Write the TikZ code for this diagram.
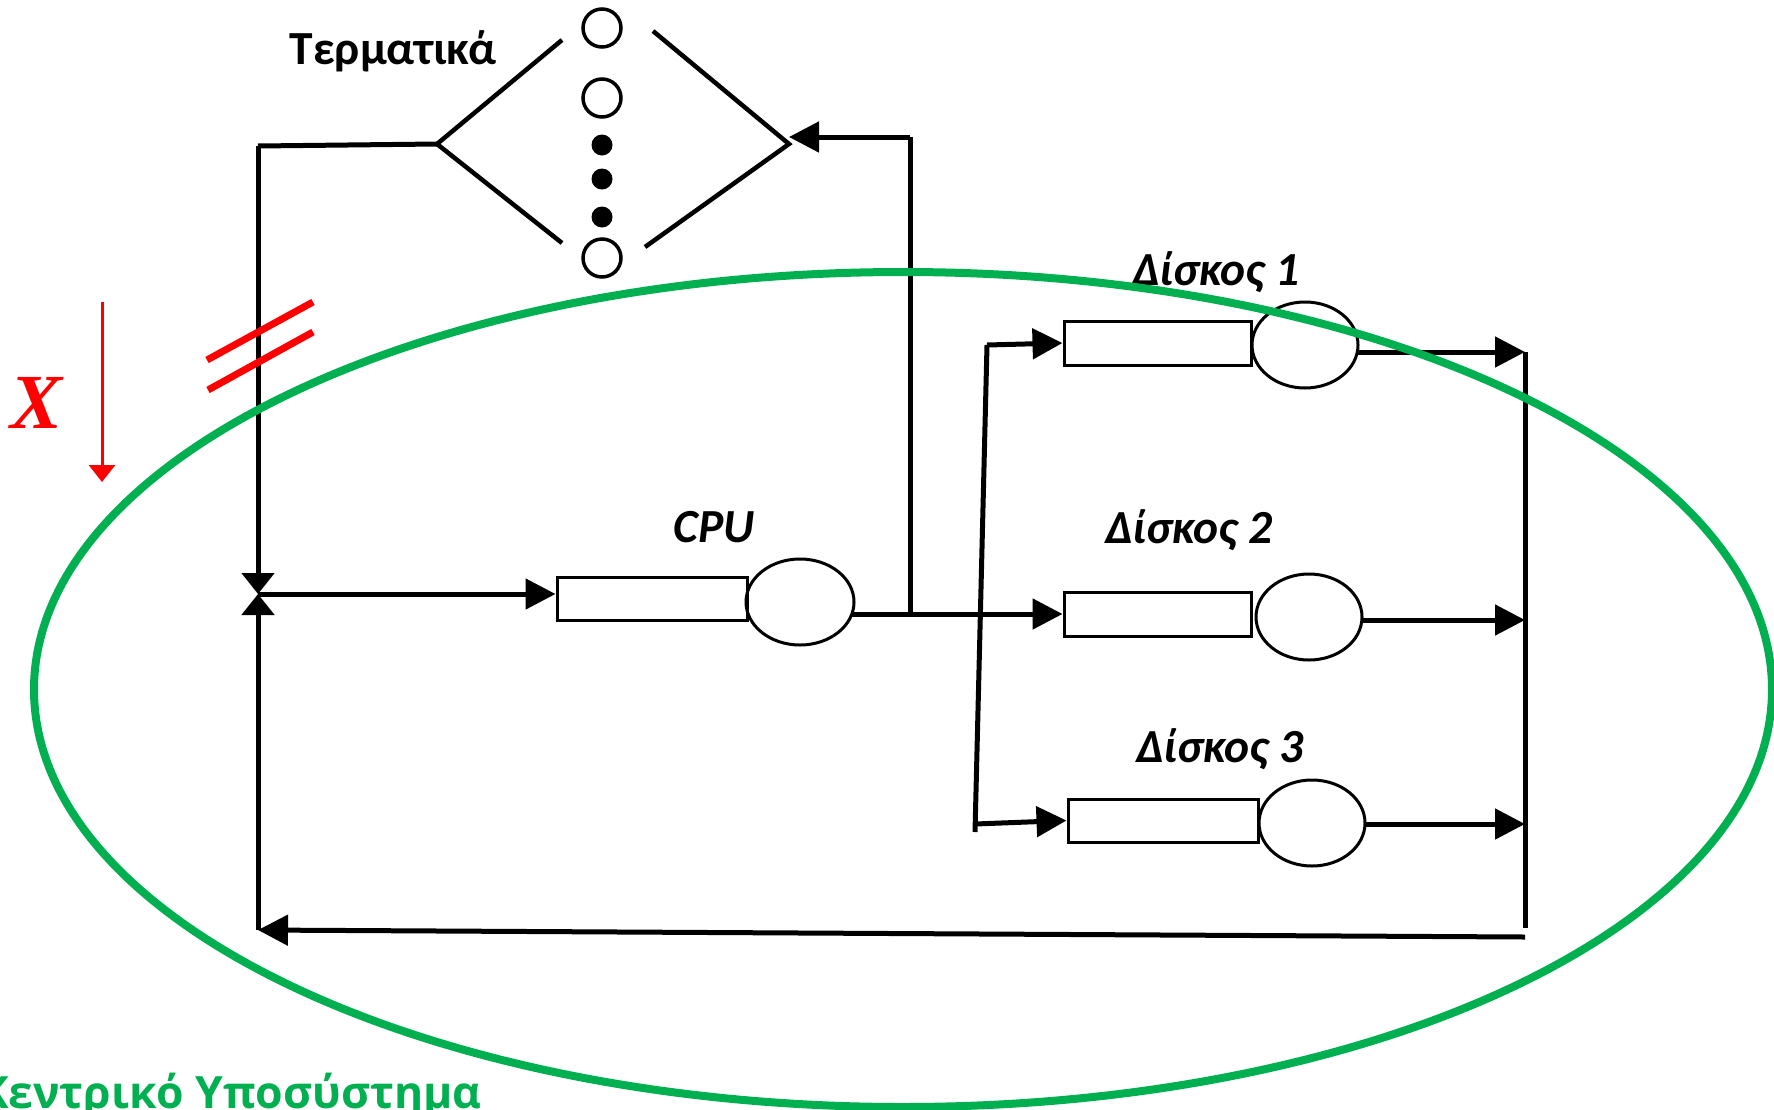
\documentclass[tikz,border=0pt]{standalone}
\usepackage{fontspec}
\setmainfont{Carlito}
\newfontfamily\grnfont{Open Sans}
\newfontfamily\xfont{Liberation Serif}
\usetikzlibrary{arrows.meta,shapes.geometric}
\definecolor{offgreen}{RGB}{0,176,80}
\begin{document}
\begin{tikzpicture}[x=1pt,y=-1pt,
  conn/.style={line width=5pt, -{Triangle[length=30pt,width=30pt]}},
  junc/.style={line width=5pt, -{Triangle[length=21pt,width=32pt]}},
  plain/.style={line width=5pt},
  diam/.style={line width=4.5pt},
  queue/.style={draw, line width=3pt, rectangle, minimum width=187pt, minimum height=44pt, inner sep=0pt},
  server/.style={draw, line width=3pt, ellipse, minimum width=106pt, minimum height=86pt, inner sep=0pt},
  lab/.style={font=\fontsize{47.5}{52}\selectfont\bfseries\itshape},
  term/.style={draw, circle, line width=3.5pt, minimum size=38pt, inner sep=0pt},
  dotnode/.style={fill, circle, minimum size=21pt, inner sep=0pt},
]
\useasboundingbox (0,0) rectangle (1774,1109);

% terminals
\node[font=\fontsize{47.5}{52}\selectfont\bfseries] (tl) at (393,51) {Τερματικά};
\node[term] (t1) at (602,28) {};
\node[term] (t2) at (602,98) {};
\node[dotnode] (d1) at (602,145) {};
\node[dotnode] (d2) at (602,179) {};
\node[dotnode] (d3) at (602,217) {};
\node[term] (t3) at (602,258) {};
\coordinate (L) at (437,144);
\coordinate (R) at (789,144);
\coordinate (dtl) at (562,40);
\coordinate (dbl) at (562,243);
\coordinate (dtr) at (653,31);
\coordinate (dbr) at (645,247);
\draw[diam] (dtl) -- (L) -- (dbl);
\draw[diam] (dtr) -- (R) -- (dbr);

% CPU
\node[queue, minimum width=190pt, minimum height=43pt] (cpuq) at (652,598.5) {};
\node[server, minimum width=108pt] (cpus) at (800,602) {};
\node[lab] (lcpu) at (714,527) {CPU};

% disks
\node[queue] (q1) at (1157.5,343) {};
\node[server] (s1) at (1305,345) {};
\node[lab] (l1) at (1216,272) {Δίσκος 1};
\node[queue] (q2) at (1157.5,614) {};
\node[server] (s2) at (1309,617) {};
\node[lab] (l2) at (1189,530) {Δίσκος 2};
\node[queue, minimum width=190pt, minimum height=43pt] (q3) at (1163,820.5) {};
\node[server] (s3) at (1312,823) {};
\node[lab] (l3) at (1220,749) {Δίσκος 3};

% junction and loop
\coordinate (J) at (258,594);
\coordinate (LT) at (258,146);
\coordinate (LB) at (258,930);
\draw[plain] (L) -- (LT);
\draw[junc] (LT) -- (J);
\draw[conn] (J) -- (J -| cpuq.west);

% CPU output and feedback to terminals
\coordinate (co) at (852,614);
\coordinate (bp) at (910,614);
\coordinate (bt) at (910,137);
\coordinate (Rt) at (789,137);
\draw[conn] (co) -- (q2.west);
\draw[plain] (bp) -- (bt);
\draw[conn] (bt) -- (Rt);

% fan to disks
\coordinate (f1) at (987,345);
\coordinate (f3) at (975,824);
\coordinate (fb) at (975,832);
\draw[plain] (f1) -- (fb);
\draw[conn] (f1) -- (q1.west);
\draw[conn] (f3) -- (q3.west);

% disk outputs
\coordinate (o1) at (1357,352);
\coordinate (o2) at (1361,620);
\coordinate (o3) at (1364,824);
\coordinate (r1) at (1525,352);
\coordinate (r2) at (1525,620);
\coordinate (r3) at (1525,824);
\coordinate (rb) at (1525,928);
\coordinate (rbb) at (1525,937);
\draw[conn] (o1) -- (r1);
\draw[conn] (o2) -- (r2);
\draw[conn] (o3) -- (r3);
\draw[plain] (r1) -- (rb);
\draw[conn] (rbb) -- (LB);
\draw[junc] (LB) -- (J);

% green subsystem
\coordinate (gc) at (903,689.5);
\draw[offgreen, line width=8pt] (gc) ellipse [x radius=869pt, y radius=417.5pt];
\node[anchor=base west, inner sep=0pt, text=offgreen, font=\grnfont\bfseries\fontsize{44.5}{50}\selectfont] (gt) at (-21,1108) {Κεντρικό Υποσύστημα};

% red marks
\node[text=red, font=\xfont\bfseries\itshape\fontsize{78}{82}\selectfont] (xl) at (37,403) {X};
\coordinate (xa1) at (102,302);
\coordinate (xa2) at (102,482);
\draw[red, line width=3pt, -{Triangle[length=17pt,width=26pt]}] (xa1) -- (xa2);
\coordinate (s1a) at (207,360);
\coordinate (s1b) at (313,302);
\coordinate (s2a) at (208,390);
\coordinate (s2b) at (313,332);
\draw[red, line width=7pt] (s1a) -- (s1b);
\draw[red, line width=7pt] (s2a) -- (s2b);
\end{tikzpicture}
\end{document}
